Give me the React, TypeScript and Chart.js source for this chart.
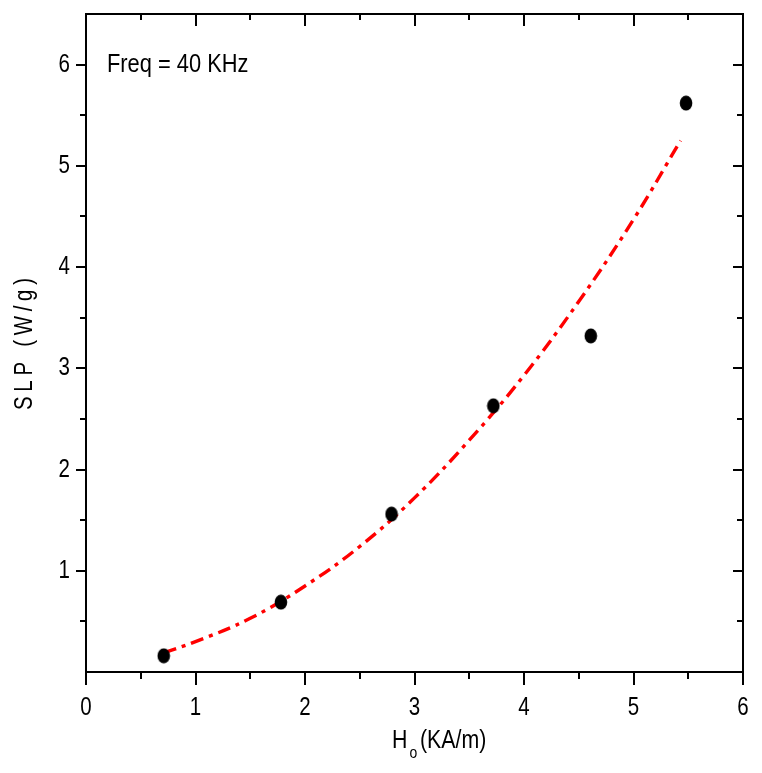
import React, { useEffect, useRef } from 'react';
import { Chart, registerables } from 'chart.js';

Chart.register(...registerables);

// Measured data points (H0 in KA/m, SLP in W/g)
const pointX = [0.71, 1.78, 2.79, 3.72, 4.61, 5.48];
const pointY = [0.16, 0.69, 1.56, 2.63, 3.32, 5.62];

// Fitted curve
const fitX = [0.71, 1.0, 1.5, 2.0, 2.5, 3.0, 3.5, 4.0, 4.5, 5.0, 5.43];
const fitY = [0.19, 0.3, 0.53, 0.85, 1.24, 1.72, 2.29, 2.93, 3.66, 4.47, 5.25];

const xTickLabels = ['0', '1', '2', '3', '4', '5', '6'];
const yTickLabels = ['', '1', '2', '3', '4', '5', '6'];

const yTitle = 'SLP (W/g)';
const xTitleMain = 'H';
const xTitleSub = 'o';
const xTitleRest = '(KA/m)';
const annotationText = 'Freq = 40 KHz';

const FONT = "'Liberation Sans', Arial, sans-serif";
const NARROW = 0.82;

function makeEllipse(): HTMLCanvasElement {
  const c = document.createElement('canvas');
  c.width = 14;
  c.height = 16;
  const g = c.getContext('2d')!;
  g.fillStyle = '#000';
  g.beginPath();
  g.ellipse(7, 8, 6.3, 7.5, 0, 0, Math.PI * 2);
  g.fill();
  return c;
}

function narrowText(ctx: CanvasRenderingContext2D, text: string, x: number, y: number, align: 'left' | 'center' | 'right', sx = NARROW) {
  const w = ctx.measureText(text).width * sx;
  let left = x;
  if (align === 'center') left = x - w / 2;
  else if (align === 'right') left = x - w;
  ctx.save();
  ctx.translate(left, y);
  ctx.scale(sx, 1);
  ctx.textAlign = 'left';
  ctx.fillText(text, 0, 0);
  ctx.restore();
  return w;
}

const framePlugin = {
  id: 'frame',
  afterDraw(chart: any) {
    const { ctx, chartArea: ca, scales } = chart;
    const xs = scales.x;
    const ys = scales.y;
    ctx.save();
    ctx.strokeStyle = '#000';
    ctx.lineWidth = 2;
    ctx.strokeRect(ca.left, ca.top, ca.right - ca.left, ca.bottom - ca.top);
    ctx.beginPath();
    for (let i = 0; i <= 12; i++) {
      const v = i / 2;
      const major = i % 2 === 0;
      const px = Math.round(xs.getPixelForValue(v));
      ctx.moveTo(px, ca.bottom);
      ctx.lineTo(px, ca.bottom + (major ? 13 : 7));
      ctx.moveTo(px, ca.top);
      ctx.lineTo(px, ca.top + (major ? 12 : 6));
    }
    for (let i = 1; i <= 12; i++) {
      const v = i / 2;
      const major = i % 2 === 0;
      const py = Math.round(ys.getPixelForValue(v));
      ctx.moveTo(ca.left - (major ? 10 : 6), py);
      ctx.lineTo(ca.left, py);
      ctx.moveTo(ca.right - (major ? 10 : 6), py);
      ctx.lineTo(ca.right, py);
    }
    ctx.stroke();

    ctx.fillStyle = '#000';
    ctx.textBaseline = 'alphabetic';

    // tick labels (from the chart's scales)
    ctx.font = `25px ${FONT}`;
    xs.ticks.forEach((t: any, i: number) => {
      const px = xs.getPixelForValue(t.value);
      narrowText(ctx, xTickLabels[i] ?? '', px, ca.bottom + 43, 'center');
    });
    ys.ticks.forEach((t: any, i: number) => {
      const py = ys.getPixelForValue(t.value);
      narrowText(ctx, yTickLabels[i] ?? '', ca.left - 16, py + 7, 'right');
    });

    // annotation
    ctx.font = `26px ${FONT}`;
    narrowText(ctx, annotationText, 107, 72, 'left', 0.84);

    // x title with subscript
    ctx.font = `26px ${FONT}`;
    const hW = narrowText(ctx, xTitleMain, 392, 748, 'left');
    ctx.font = `17px ${FONT}`;
    narrowText(ctx, xTitleSub, 392 + hW + 2, 758, 'left');
    ctx.font = `26px ${FONT}`;
    narrowText(ctx, xTitleRest, 420, 748, 'left');

    // y title, rotated, letter-spaced
    ctx.save();
    ctx.translate(32, 344);
    ctx.rotate(-Math.PI / 2);
    ctx.font = `25px ${FONT}`;
    const chars = yTitle.split('');
    const widths = chars.map((c) => ctx.measureText(c).width * NARROW);
    const total = 132;
    const gap = (total - widths.reduce((a, b) => a + b, 0)) / (chars.length - 1);
    let cx = -total / 2;
    chars.forEach((c, i) => {
      narrowText(ctx, c, cx, 0, 'left');
      cx += widths[i] + gap;
    });
    ctx.restore();

    ctx.restore();
  },
};

export default function App() {
  const ref = useRef<HTMLCanvasElement | null>(null);

  useEffect(() => {
    document.body.style.margin = '0';
    const canvas = ref.current!;
    const ellipse = makeEllipse();
    const chart = new Chart(canvas, {
      type: 'scatter',
      data: {
        datasets: [
          {
            label: 'fit',
            data: fitX.map((x, i) => ({ x, y: fitY[i] })),
            showLine: true,
            borderColor: '#ff0000',
            borderWidth: 3.4,
            borderDash: [13, 6, 4, 6],
            pointRadius: 0,
            tension: 0.4,
            order: 2,
          } as any,
          {
            label: 'SLP',
            data: pointX.map((x, i) => ({ x, y: pointY[i] })),
            pointStyle: ellipse,
            pointRadius: 7,
            backgroundColor: '#000',
            borderColor: '#000',
            showLine: false,
            order: 1,
          } as any,
        ],
      },
      options: {
        animation: false,
        responsive: false,
        maintainAspectRatio: false,
        layout: { padding: { left: 0, top: 14, right: 19, bottom: 0 } },
        plugins: {
          legend: { display: false },
          tooltip: { enabled: false },
        },
        scales: {
          x: {
            type: 'linear',
            min: 0,
            max: 6,
            grid: { display: false, drawTicks: false },
            border: { display: false },
            afterBuildTicks: (s: any) => {
              s.ticks = xTickLabels.map((t) => ({ value: Number(t) }));
            },
            afterFit: (s: any) => {
              s.height = 101;
              s.paddingLeft = 0;
              s.paddingRight = 0;
              s.paddingTop = 0;
              s.paddingBottom = 0;
            },
            ticks: { display: false },
          },
          y: {
            type: 'linear',
            min: 0,
            max: 6.5,
            grid: { display: false, drawTicks: false },
            border: { display: false },
            afterBuildTicks: (s: any) => {
              s.ticks = yTickLabels.map((_t, i) => ({ value: i }));
            },
            afterFit: (s: any) => {
              s.width = 86;
              s.paddingLeft = 0;
              s.paddingRight = 0;
              s.paddingTop = 0;
              s.paddingBottom = 0;
            },
            ticks: { display: false },
          },
        },
      },
      plugins: [framePlugin],
    });
    return () => chart.destroy();
  }, []);

  return (
    <div style={{ position: 'fixed', left: 0, top: 0, width: 762, height: 773, background: '#fff' }}>
      <canvas ref={ref} width={762} height={773} style={{ width: 762, height: 773, display: 'block' }} />
    </div>
  );
}
